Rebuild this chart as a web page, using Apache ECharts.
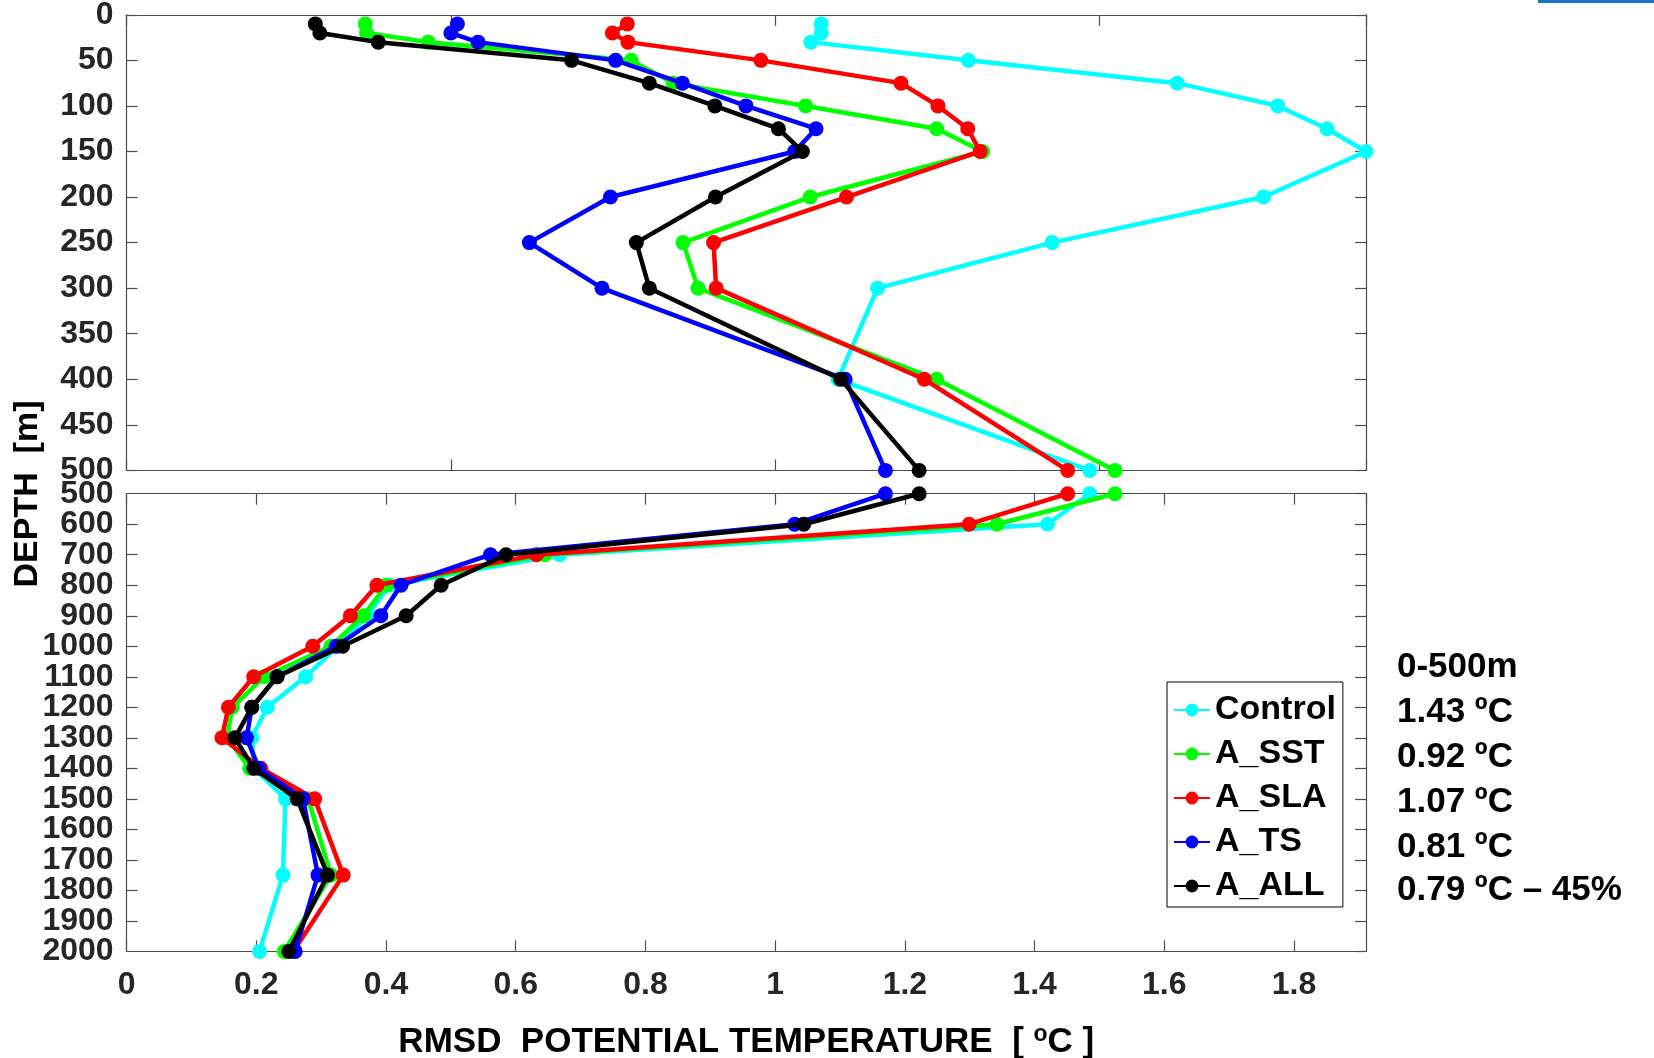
<!DOCTYPE html>
<html><head><meta charset="utf-8">
<script src="https://cdn.jsdelivr.net/npm/echarts@6/dist/echarts.min.js"></script>
<style>html,body{margin:0;padding:0;background:#fff}#c{width:1654px;height:1058px}</style>
</head><body><div id="c"></div>
<script>
// ---- data ----
const seriesNames = ['Control', 'A_SST', 'A_SLA', 'A_TS', 'A_ALL'];
const depthTop = [10, 20, 30, 50, 75, 100, 125, 150, 200, 250, 300, 400, 500];
const depthBottom = [500, 600, 700, 800, 900, 1000, 1100, 1200, 1300, 1400, 1500, 1750, 2000];

const controlTop = [1.071, 1.071, 1.055, 1.298, 1.620, 1.775, 1.851, 1.911, 1.753, 1.427, 1.158, 1.097, 1.485];
const sstTop     = [0.368, 0.370, 0.465, 0.778, 0.843, 1.047, 1.249, 1.320, 1.054, 0.858, 0.881, 1.249, 1.524];
const slaTop     = [0.772, 0.749, 0.773, 0.978, 1.194, 1.251, 1.297, 1.316, 1.110, 0.905, 0.909, 1.230, 1.451];
const tsTop      = [0.510, 0.500, 0.542, 0.754, 0.857, 0.955, 1.063, 1.030, 0.746, 0.621, 0.733, 1.108, 1.170];
const allTop     = [0.291, 0.298, 0.388, 0.686, 0.806, 0.907, 1.005, 1.042, 0.908, 0.786, 0.806, 1.101, 1.222];

const controlBottom = [1.485, 1.420, 0.668, 0.405, 0.372, 0.325, 0.276, 0.217, 0.193, 0.197, 0.245, 0.241, 0.205];
const sstBottom     = [1.524, 1.342, 0.645, 0.400, 0.365, 0.315, 0.212, 0.163, 0.155, 0.190, 0.280, 0.315, 0.243];
const slaBottom     = [1.451, 1.299, 0.632, 0.386, 0.345, 0.287, 0.196, 0.157, 0.147, 0.207, 0.290, 0.334, 0.257];
const tsBottom      = [1.170, 1.030, 0.561, 0.423, 0.392, 0.323, 0.232, 0.193, 0.185, 0.204, 0.272, 0.295, 0.260];
const allBottom     = [1.222, 1.044, 0.585, 0.485, 0.431, 0.333, 0.232, 0.193, 0.167, 0.196, 0.263, 0.310, 0.250];

const summaryLines = ['0-500m', '1.43 ºC', '0.92 ºC', '1.07 ºC', '0.81 ºC', '0.79 ºC – 45%'];
const xTitle = 'RMSD  POTENTIAL TEMPERATURE  [ ';
const yTitle = 'DEPTH  [m]';

// ---- styling ----
const colors = ['#00FFFF', '#00FF00', '#FF0000', '#0000FF', '#000000'];
const FONT = '"Liberation Sans", Arial, Helvetica, sans-serif';
const AX = '#4d4d4d';
const topVals = [controlTop, sstTop, slaTop, tsTop, allTop];
const botVals = [controlBottom, sstBottom, slaBottom, tsBottom, allBottom];

function pairs(vals, depths) { return vals.map((v, i) => [v, depths[i]]); }

const XMAX = 1.911;
const tickLabel = { fontSize: 32, fontWeight: 'bold', color: '#262626', fontFamily: FONT };
function xAx(grid, pos, interval, labels) {
  return {
    type: 'value', gridIndex: grid, position: pos, min: 0, max: XMAX, interval: interval,
    axisLine: { show: true, onZero: false, lineStyle: { color: AX, width: 1.2 } },
    axisTick: { show: true, inside: true, length: 11, lineStyle: { color: AX, width: 1.2 } },
    axisLabel: labels ? Object.assign({ show: true, showMinLabel: true, showMaxLabel: false, hideOverlap: false, margin: 18,
      formatter: v => String(+v.toFixed(2)) }, tickLabel) : { show: false },
    splitLine: { show: false }
  };
}
function yAx(grid, pos, min, max, interval, labels, showEnds) {
  return {
    type: 'value', gridIndex: grid, position: pos, inverse: true, min: min, max: max, interval: interval,
    axisLine: { show: true, onZero: false, lineStyle: { color: AX, width: 1.2 } },
    axisTick: { show: true, inside: true, length: 11, lineStyle: { color: AX, width: 1.2 } },
    axisLabel: labels ? Object.assign({ show: true, showMinLabel: showEnds, showMaxLabel: showEnds, hideOverlap: false, margin: 13,
      formatter: v => String(Math.round(v)) }, tickLabel) : { show: false },
    splitLine: { show: false }
  };
}

const xAxes = [xAx(0, 'bottom', 0.5, false), xAx(0, 'top', 0.5, false), xAx(1, 'bottom', 0.2, true), xAx(1, 'top', 0.2, false)];
xAxes[2].name = '{t|' + xTitle + '}{s|o}{t|C ]}';
xAxes[2].nameLocation = 'middle';
xAxes[2].nameGap = 72;
xAxes[2].nameTextStyle = {
  rich: {
    t: { fontSize: 35, fontWeight: 'bold', color: '#000', fontFamily: FONT, lineHeight: 38 },
    s: { fontSize: 23, fontWeight: 'bold', color: '#000', fontFamily: FONT, verticalAlign: 'top', lineHeight: 10 }
  }
};
const yAxes = [
  yAx(0, 'left', 0, 500, 50, true, true),
  yAx(0, 'right', 0, 500, 50, false),
  yAx(1, 'left', 500, 2000, 100, true, false),
  yAx(1, 'right', 500, 2000, 100, false)
];
// extra label-only axis for the end labels (500 and 2000) of the lower panel
const endAxis = yAx(1, 'left', 500, 2000, 100, true, true);
endAxis.axisLine = { show: false };
endAxis.axisTick = { show: false };
endAxis.axisLabel.formatter = v => (v === 500 || v === 2000) ? String(Math.round(v)) : '';
yAxes.push(endAxis);

const series = [];
seriesNames.forEach((n, i) => {
  const common = {
    name: n, type: 'line', symbol: 'circle', symbolSize: 15, clip: false,
    lineStyle: { color: colors[i], width: 4.5 }, itemStyle: { color: colors[i] },
    emphasis: { disabled: true }, z: 2 + i
  };
  series.push(Object.assign({}, common, { xAxisIndex: 0, yAxisIndex: 0, data: pairs(topVals[i], depthTop) }));
  series.push(Object.assign({}, common, { xAxisIndex: 2, yAxisIndex: 2, data: pairs(botVals[i], depthBottom) }));
});

const graphics = [
  { type: 'rect', shape: { x: 1538, y: 0, width: 116, height: 3 }, style: { fill: '#1874CD' } },
  { type: 'text', x: 28, y: 494, rotation: Math.PI / 2,
    style: { text: yTitle, font: 'bold 34px ' + FONT, fill: '#000', align: 'center', verticalAlign: 'middle' } }
];
const sumY = [667, 712, 757, 802, 847, 890];
summaryLines.forEach((s, i) => {
  graphics.push({ type: 'text', x: 1397, y: sumY[i],
    style: { text: s, font: 'bold 35px ' + FONT, fill: '#000', align: 'left', verticalAlign: 'middle' } });
});

const chart = echarts.init(document.getElementById('c'), null, { renderer: 'canvas' });
chart.setOption({
  animation: false,
  backgroundColor: '#fff',
  grid: [
    { left: 126.6, top: 14.8, width: 1239.4, height: 455.6, containLabel: false, outerBoundsMode: 'none' },
    { left: 126.6, top: 493.7, width: 1239.4, height: 457.7, containLabel: false, outerBoundsMode: 'none' }
  ],
  xAxis: xAxes,
  yAxis: yAxes,
  legend: {
    orient: 'vertical', left: 1167, top: 682, padding: [11, 7, 4, 6], itemGap: 10,
    itemWidth: 36, itemHeight: 16, borderColor: '#000', borderWidth: 1, backgroundColor: '#fff',
    textStyle: { fontSize: 34, fontWeight: 'bold', color: '#000', fontFamily: FONT, lineHeight: 34 },
    data: seriesNames, selectedMode: false
  },
  series: series,
  graphic: graphics
});
</script>
</body></html>
